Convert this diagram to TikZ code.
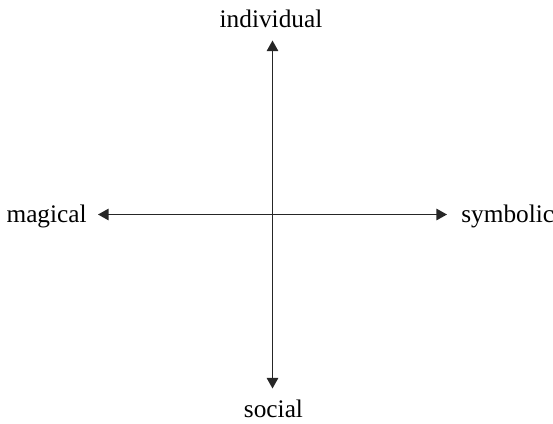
\documentclass[tikz,border=0pt]{standalone}
\usepackage{fontspec}
\setmainfont{Liberation Serif}
\usetikzlibrary{arrows.meta,positioning}

\begin{document}
\begin{tikzpicture}[
    x=0.02cm, y=-0.02cm,
    >={Triangle[length=6pt, width=6.5pt]},
    axis/.style={<->, line width=0.75pt, draw=black!85},
    lbl/.style={inner sep=0pt, font=\fontsize{14.4}{17}\selectfont}
  ]
  \useasboundingbox (0,0) rectangle (553,423);
  % the two axes
  \coordinate (o) at (272.5,214.5);
  \coordinate (up) at (272.5,40.5);
  \coordinate (down) at (272.5,388.5);
  \coordinate (left) at (98,214.5);
  \coordinate (right) at (447,214.5);
  \draw[axis] (up) -- (down);
  \draw[axis] (left) -- (right);

  \node[lbl, anchor=base] (indiv) at (271,27) {individual};
  \node[lbl, anchor=base] (soc) at (273.5,417) {social};
  \node[lbl, anchor=base east] (mag) at (87,222) {magical};
  \node[lbl, anchor=base west] (sym) at (461,222) {symbolic};
\end{tikzpicture}
\end{document}
